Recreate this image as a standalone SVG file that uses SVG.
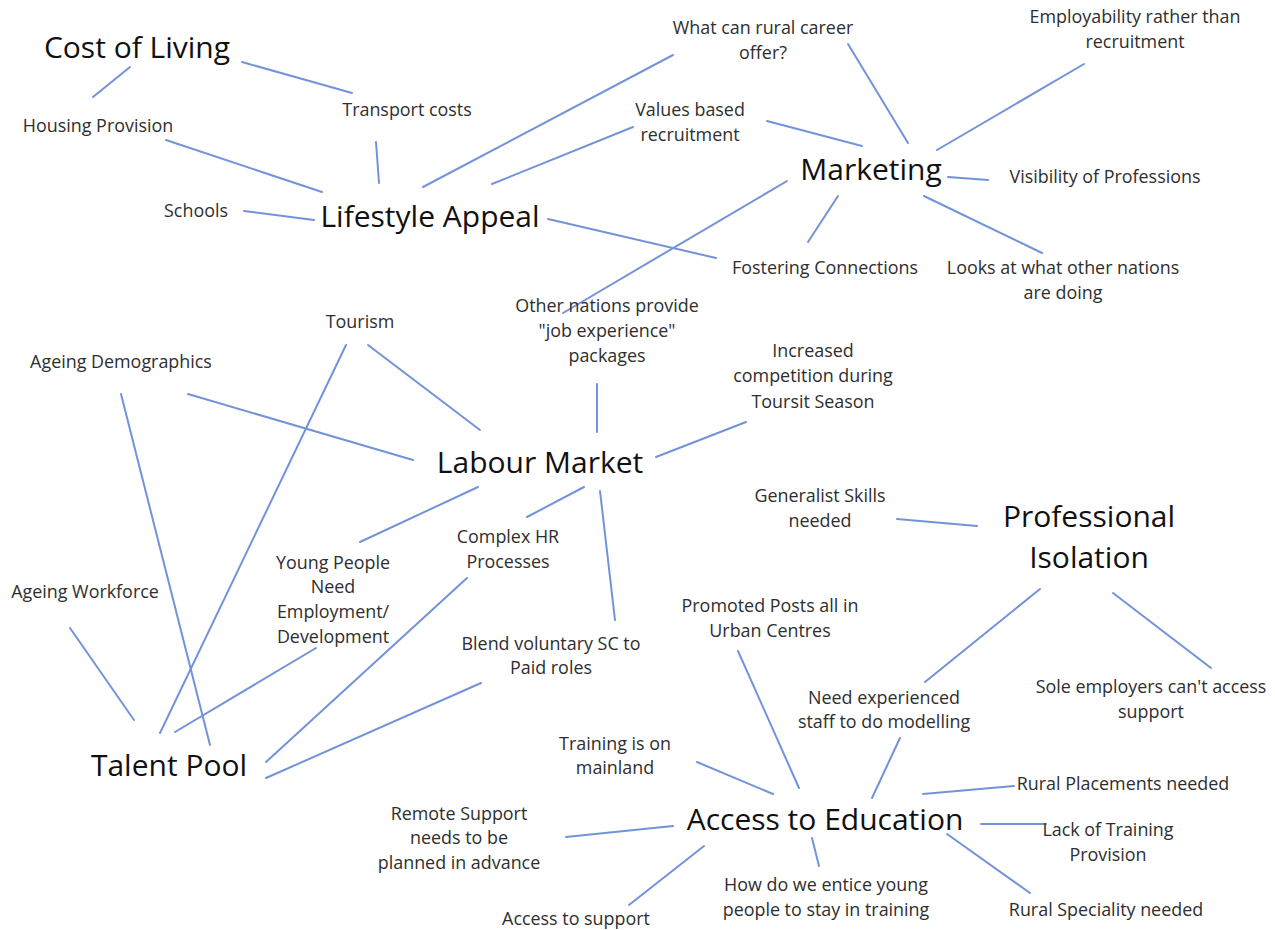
<svg xmlns="http://www.w3.org/2000/svg" width="1275" height="930" viewBox="0 0 1275 930">
  <style>
    .bg { fill: #ffffff; }
    .link { stroke: #7393d9; stroke-width: 2; stroke-linecap: round; fill: none; }
    .hub { font-family: "Open Sans", "Noto Sans", "Liberation Sans", sans-serif; font-size: 30px; fill: #111111; text-anchor: middle; }
    .leaf { font-family: "Open Sans", "Noto Sans", "Liberation Sans", sans-serif; font-size: 17.9px; fill: #2e2e2e; text-anchor: middle; }
  </style>
  <rect class="bg" x="0" y="0" width="1275" height="930"/>

  <!-- connectors -->
  <g id="connectors">
    <line class="link" x1="93" y1="97" x2="130" y2="67"/>
    <line class="link" x1="242" y1="62" x2="352" y2="93"/>
    <line class="link" x1="166" y1="140" x2="322" y2="192"/>
    <line class="link" x1="376" y1="142" x2="379" y2="183"/>
    <line class="link" x1="244" y1="211" x2="314" y2="220"/>
    <line class="link" x1="423" y1="187" x2="673" y2="55"/>
    <line class="link" x1="492" y1="184" x2="633" y2="127"/>
    <line class="link" x1="548" y1="219" x2="716" y2="258"/>
    <line class="link" x1="908" y1="143" x2="848" y2="44"/>
    <line class="link" x1="767" y1="121" x2="862" y2="146"/>
    <line class="link" x1="937" y1="150" x2="1084" y2="64"/>
    <line class="link" x1="948" y1="177" x2="988" y2="180"/>
    <line class="link" x1="838" y1="196" x2="808" y2="242"/>
    <line class="link" x1="924" y1="196" x2="1042" y2="253"/>
    <line class="link" x1="787" y1="181" x2="563" y2="313"/>
    <line class="link" x1="597" y1="384" x2="597" y2="432"/>
    <line class="link" x1="656" y1="457" x2="746" y2="422"/>
    <line class="link" x1="368" y1="345" x2="480" y2="430"/>
    <line class="link" x1="188" y1="394" x2="413" y2="460"/>
    <line class="link" x1="478" y1="487" x2="360" y2="542"/>
    <line class="link" x1="584" y1="487" x2="527" y2="517"/>
    <line class="link" x1="600" y1="491" x2="615" y2="620"/>
    <line class="link" x1="346" y1="345" x2="160" y2="733"/>
    <line class="link" x1="121" y1="394" x2="210" y2="745"/>
    <line class="link" x1="70" y1="628" x2="134" y2="720"/>
    <line class="link" x1="175" y1="732" x2="316" y2="648"/>
    <line class="link" x1="266" y1="762" x2="467" y2="578"/>
    <line class="link" x1="266" y1="778" x2="481" y2="683"/>
    <line class="link" x1="897" y1="519" x2="977" y2="526"/>
    <line class="link" x1="1040" y1="589" x2="925" y2="682"/>
    <line class="link" x1="1113" y1="593" x2="1211" y2="668"/>
    <line class="link" x1="738" y1="651" x2="799" y2="788"/>
    <line class="link" x1="900" y1="738" x2="872" y2="798"/>
    <line class="link" x1="697" y1="762" x2="773" y2="794"/>
    <line class="link" x1="923" y1="794" x2="1014" y2="786"/>
    <line class="link" x1="981" y1="824" x2="1046" y2="824"/>
    <line class="link" x1="947" y1="834" x2="1030" y2="893"/>
    <line class="link" x1="812" y1="838" x2="819" y2="866"/>
    <line class="link" x1="704" y1="846" x2="629" y2="905"/>
    <line class="link" x1="673" y1="826" x2="566" y2="837"/>
  </g>

  <!-- main topics -->
  <g id="cost-of-living"><text class="hub" x="137" y="58">Cost of Living</text></g>
  <g id="lifestyle-appeal"><text class="hub" x="430" y="227">Lifestyle Appeal</text></g>
  <g id="marketing"><text class="hub" x="871" y="180">Marketing</text></g>
  <g id="labour-market"><text class="hub" x="540" y="473">Labour Market</text></g>
  <g id="professional-isolation"><text class="hub" x="1089" y="527">Professional</text><text class="hub" x="1089" y="568">Isolation</text></g>
  <g id="talent-pool"><text class="hub" x="169" y="776">Talent Pool</text></g>
  <g id="access-to-education"><text class="hub" x="825" y="830">Access to Education</text></g>

  <!-- sub topics -->
  <g id="housing-provision"><text class="leaf" x="98" y="132">Housing Provision</text></g>
  <g id="transport-costs"><text class="leaf" x="407" y="116">Transport costs</text></g>
  <g id="schools"><text class="leaf" x="196" y="217">Schools</text></g>
  <g id="rural-career"><text class="leaf" x="763" y="34">What can rural career</text><text class="leaf" x="763" y="59">offer?</text></g>
  <g id="employability"><text class="leaf" x="1135" y="23">Employability rather than</text><text class="leaf" x="1135" y="48">recruitment</text></g>
  <g id="values-based"><text class="leaf" x="690" y="116">Values based</text><text class="leaf" x="690" y="141">recruitment</text></g>
  <g id="visibility"><text class="leaf" x="1105" y="183">Visibility of Professions</text></g>
  <g id="fostering"><text class="leaf" x="825" y="274">Fostering Connections</text></g>
  <g id="other-nations-looks"><text class="leaf" x="1063" y="274">Looks at what other nations</text><text class="leaf" x="1063" y="299">are doing</text></g>
  <g id="job-experience"><text class="leaf" x="607" y="312">Other nations provide</text><text class="leaf" x="607" y="337">"job experience"</text><text class="leaf" x="607" y="362">packages</text></g>
  <g id="tourism"><text class="leaf" x="360" y="328">Tourism</text></g>
  <g id="ageing-demographics"><text class="leaf" x="121" y="368">Ageing Demographics</text></g>
  <g id="tourist-season"><text class="leaf" x="813" y="357">Increased</text><text class="leaf" x="813" y="382">competition during</text><text class="leaf" x="813" y="408">Toursit Season</text></g>
  <g id="young-people"><text class="leaf" x="333" y="569">Young People</text><text class="leaf" x="333" y="593">Need</text><text class="leaf" x="333" y="618">Employment/</text><text class="leaf" x="333" y="643">Development</text></g>
  <g id="complex-hr"><text class="leaf" x="508" y="543">Complex HR</text><text class="leaf" x="508" y="568">Processes</text></g>
  <g id="ageing-workforce"><text class="leaf" x="85" y="598">Ageing Workforce</text></g>
  <g id="blend-voluntary"><text class="leaf" x="551" y="650">Blend voluntary SC to</text><text class="leaf" x="551" y="674">Paid roles</text></g>
  <g id="generalist-skills"><text class="leaf" x="820" y="502">Generalist Skills</text><text class="leaf" x="820" y="527">needed</text></g>
  <g id="promoted-posts"><text class="leaf" x="770" y="612">Promoted Posts all in</text><text class="leaf" x="770" y="637">Urban Centres</text></g>
  <g id="experienced-staff"><text class="leaf" x="884" y="704">Need experienced</text><text class="leaf" x="884" y="728">staff to do modelling</text></g>
  <g id="sole-employers"><text class="leaf" x="1151" y="693">Sole employers can't access</text><text class="leaf" x="1151" y="718">support</text></g>
  <g id="training-mainland"><text class="leaf" x="615" y="750">Training is on</text><text class="leaf" x="615" y="774">mainland</text></g>
  <g id="rural-placements"><text class="leaf" x="1123" y="790">Rural Placements needed</text></g>
  <g id="remote-support"><text class="leaf" x="459" y="820">Remote Support</text><text class="leaf" x="459" y="844">needs to be</text><text class="leaf" x="459" y="869">planned in advance</text></g>
  <g id="lack-of-training"><text class="leaf" x="1108" y="836">Lack of Training</text><text class="leaf" x="1108" y="861">Provision</text></g>
  <g id="access-to-support"><text class="leaf" x="576" y="925">Access to support</text></g>
  <g id="entice-young-people"><text class="leaf" x="826" y="891">How do we entice young</text><text class="leaf" x="826" y="916">people to stay in training</text></g>
  <g id="rural-speciality"><text class="leaf" x="1106" y="916">Rural Speciality needed</text></g>
</svg>
